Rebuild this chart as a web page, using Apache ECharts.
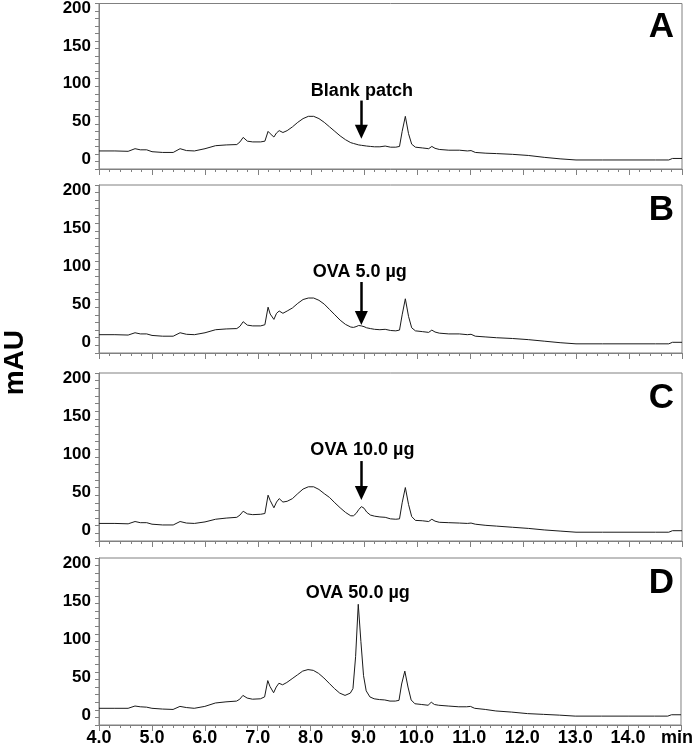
<!DOCTYPE html>
<html>
<head>
<meta charset="utf-8">
<script src="https://cdn.jsdelivr.net/npm/echarts@6/dist/echarts.min.js"></script>
<style>
html,body{margin:0;padding:0;background:#fff;}
#chart{width:696px;height:750px;}
</style>
</head>
<body>
<div id="chart"></div>
<script>
// Retention time (min)
const times = [4.0,4.3,4.55,4.68,4.78,4.9,5.0,5.2,5.4,5.53,
  5.65,5.8,6.0,6.2,6.4,6.6,6.66,6.72,6.8,6.9,
  7.05,7.13,7.19,7.23,7.3,7.35,7.4,7.47,7.55,7.65,
  7.75,7.85,7.95,8.05,8.15,8.25,8.35,8.45,8.55,8.65,
  8.75,8.8,8.85,8.9,8.95,9.0,9.05,9.12,9.2,9.3,
  9.4,9.5,9.6,9.67,9.72,9.78,9.84,9.9,9.97,10.1,
  10.22,10.28,10.34,10.42,10.6,10.8,10.95,11.02,11.1,11.3,
  11.5,11.8,12.1,12.4,12.7,13.0,13.5,14.0,14.5,14.75,
  14.82,15.0];

// mAU, panel A: Blank patch
const panelA = [4,4,3.5,7,5.5,5.5,3,2,2,7,
  4.5,4,7,11,12,12.5,16,22,17,16,
  16,17,30,27,22.5,28,31,28.5,31,36,
  42,47,50,50,47,42,36,30,24,19,
  15,14,13,12,11.5,11,10.5,10,9.5,9.5,
  10.5,9,9,10,30,50,27,13,9,8,
  7,10,7.5,6,5,5,4,4.5,2,1,
  0.5,-0.5,-2,-4.5,-6.5,-8,-8,-8,-8,-8,
  -6,-6];

// mAU, panel B: OVA 5.0 µg
const panelB = [4,4,3.5,6.5,5,5,3,2,2,6.5,
  4.5,4,6.5,10.5,11.5,12,15,21,16.5,15.5,
  15.5,17,40,31,24,32,35,32,35,39,
  45,50,52,52,49,44,37,30,23,17.5,
  14,13.5,14.5,16,15.5,14.5,13,12,11,10.5,
  11,9.5,9,10,30,51,28,13,9,8,
  7,10,7.5,6,5,5,4,4.5,2,1,
  0,-1,-2.5,-4.5,-6.5,-8,-8,-8,-8,-8,
  -6,-6];

// mAU, panel C: OVA 10.0 µg
const panelC = [3,3,2.5,5.5,4,4,2,1,1,5.5,
  3.5,3,5,8.5,10,11,14,19,15.5,14.5,
  15,16,40,33,23.5,31,35.5,31,32,35.5,
  42,48,51,51,47.5,42,37,30,23.5,17.5,
  13,13,16,21,25,23,18,14,12.5,11.5,
  11,9,8.5,9,30,50,28,12,7,6.5,
  5.5,8.5,6,4.5,4,3.5,3,3.5,2,0.5,
  -0.5,-2,-3.5,-5.5,-7,-8.5,-8.5,-8.5,-8.5,-8.5,
  -6.5,-6.5];

// mAU, panel D: OVA 50.0 µg
const panelD = [2,2,2,5,4,3.5,2,1,0.5,4.5,
  3,2,4.5,9,10.5,11.5,14,19,15.5,14,
  14.5,17,38.5,31,22.5,30,35,33,36,41,
  46,51,53,52,48,42,35,28,22,19,
  22,28,70,139,90,45,25,17,14.5,13.5,
  13,11.5,11.5,12.5,34,51,30,13,8,7,
  6,10,7,6,5,4,4,4.5,2,0.5,
  -1.5,-3,-5,-6,-7,-8.3,-8.3,-8.3,-8.3,-8.3,
  -6.5,-6.5];

const panelLetters = ['A','B','C','D'];
const annotationTexts = ['Blank patch','OVA 5.0 µg','OVA 10.0 µg','OVA 50.0 µg'];
const yTickLabels = [0,50,100,150,200];

const panels = [panelA, panelB, panelC, panelD];

// layout / annotation placement (not data)
const gridTops = [2, 185, 373, 558];
const gridHeights = [167, 168, 168, 167];
const annText = [[8.96,84],[8.92,86],[8.97,99],[8.89,154]];
const annArrow = [[8.95,71,29.5],[8.95,73,25.8],[8.95,84.7,42.8],null];

const FONT = 'Liberation Sans, Arial, Helvetica, sans-serif';
const GRAY = '#808080';

const chart = echarts.init(document.getElementById('chart'), null, {renderer:'canvas'});

const grids = [], xAxes = [], yAxes = [], series = [], graphics = [];
for (let i = 0; i < 4; i++) {
  grids.push({left:99, right:14, top:gridTops[i], height:gridHeights[i], show:true,
    borderColor:GRAY, borderWidth:1, backgroundColor:'transparent'});
  xAxes.push({type:'value', gridIndex:i, min:4, max:15, interval:1,
    axisLine:{show:true, onZero:false, lineStyle:{color:GRAY, width:1}},
    axisTick:{show:true, length:6, lineStyle:{color:GRAY}},
    minorTick:{show:true, splitNumber:5, length:3, lineStyle:{color:GRAY}},
    splitLine:{show:false},
    axisLabel:{show:i===3, margin:4, color:'#000', fontFamily:FONT, fontSize:18, fontWeight:'bold',
      formatter:function(v){ return v === 15 ? '{m|min}' : v.toFixed(1); },
      rich:{m:{fontFamily:FONT, fontSize:18, fontWeight:'bold', color:'#000', padding:[0,8,0,0]}}}
  });
  yAxes.push({type:'value', gridIndex:i, min:-20, max:200, interval:10,
    axisLine:{show:true, onZero:false, lineStyle:{color:GRAY, width:1}},
    axisTick:{show:true, length:4, lineStyle:{color:GRAY}},
    splitLine:{show:false},
    axisLabel:{margin:8, color:'#000', fontFamily:FONT, fontSize:17, fontWeight:'bold',
      verticalAlign:'top', lineHeight:10,
      formatter:function(v){ return yTickLabels.indexOf(v) >= 0 ? String(v) : ''; }}
  });
  const s = {type:'line', xAxisIndex:i, yAxisIndex:i, showSymbol:false, symbol:'none',
    data: times.map((t,k)=>[t, panels[i][k]]),
    lineStyle:{color:'#1a1a1a', width:1}, silent:true,
    markPoint:{silent:true, symbol:'rect', symbolSize:1, itemStyle:{color:'rgba(0,0,0,0)'},
      label:{show:true, position:'inside', color:'#000', fontFamily:FONT, fontSize:18, fontWeight:'bold',
        formatter:function(p){ return p.name; }},
      data:[{name:annotationTexts[i], coord:annText[i]}]}
  };
  if (annArrow[i]) {
    const a = annArrow[i];
    s.markLine = {silent:true, symbol:['none','triangle'], symbolSize:[13,14],
      lineStyle:{color:'#000', width:2.5, type:'solid'}, label:{show:false},
      data:[[{coord:[a[0],a[1]]},{coord:[a[0],a[2]]}]]};
  }
  series.push(s);
  graphics.push({type:'text', right:22, top:gridTops[i]+8,
    style:{text:panelLetters[i], fill:'#000', font:'bold 35px ' + FONT}});
}
graphics.push({type:'text', left:1, top:330, rotation:Math.PI/2, originX:0, originY:0,
  style:{text:'mAU', fill:'#000', font:'bold 28px ' + FONT}});

chart.setOption({
  animation:false,
  backgroundColor:'#fff',
  grid:grids, xAxis:xAxes, yAxis:yAxes, series:series, graphic:graphics
});
</script>
</body>
</html>
